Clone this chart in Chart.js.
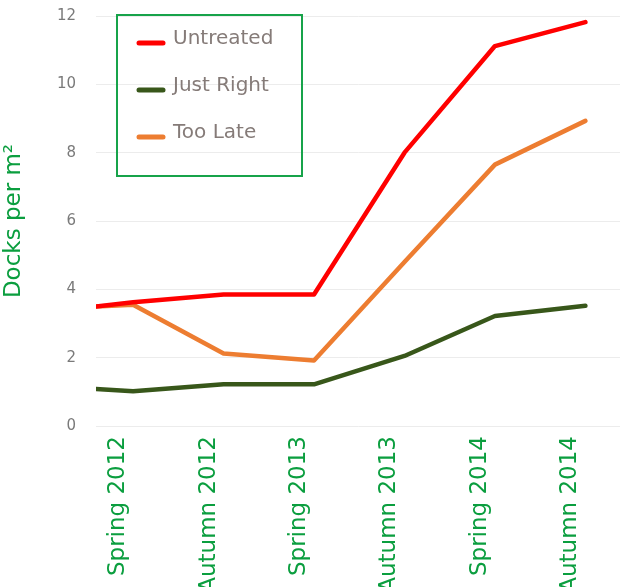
<!DOCTYPE html>
<html>
<head>
<meta charset="utf-8">
<script src="https://cdn.jsdelivr.net/npm/chart.js@4.4.0/dist/chart.umd.min.js"></script>
<style>
  html, body { margin: 0; padding: 0; background: #ffffff; overflow: hidden; }
  #wrap { position: relative; width: 620px; height: 587px; overflow: hidden; }
  #c { position: absolute; left: 0; top: -13px; }
</style>
</head>
<body>
<div id="wrap"><canvas id="c" width="623" height="600"></canvas></div>
<script>
// Category labels (tick positions 0..5); first data point lies before Spring 2012
const categories = ['Spring 2012', 'Autumn 2012', 'Spring 2013', 'Autumn 2013', 'Spring 2014', 'Autumn 2014'];
const xPositions = [-0.41, 0, 1, 2, 3, 4, 5];
const untreated = [3.5, 3.62, 3.85, 3.85, 8.0, 11.12, 11.82];
const justRight = [1.08, 1.02, 1.22, 1.22, 2.05, 3.22, 3.52];
const tooLate   = [3.5, 3.55, 2.12, 1.92, 4.8, 7.65, 8.93];
const yTicks = [0, 2, 4, 6, 8, 10, 12];
const seriesNames = ['Untreated', 'Just Right', 'Too Late'];
const seriesColors = ['#ff0000', '#38571a', '#ed7d31'];

const toPoints = arr => arr.map((v, i) => ({ x: xPositions[i], y: v }));

const legendPlugin = {
  id: 'boxLegend',
  afterDraw(chart) {
    const ctx = chart.ctx;
    const a = chart.chartArea;
    const left = a.left + 21, top = a.top - 1, w = 185, h = 161;
    ctx.save();
    ctx.strokeStyle = '#17a34a';
    ctx.lineWidth = 2;
    ctx.strokeRect(left, top, w, h);
    const rows = [29, 76, 123];
    chart.data.datasets.forEach((ds, i) => {
      const base = top + rows[i];
      ctx.strokeStyle = ds.borderColor;
      ctx.lineWidth = 5;
      ctx.lineCap = 'round';
      ctx.beginPath();
      ctx.moveTo(left + 22, base - 1);
      ctx.lineTo(left + 46, base - 1);
      ctx.stroke();
      ctx.fillStyle = '#857b78';
      ctx.font = '20px "DejaVu Sans"';
      ctx.textBaseline = 'alphabetic';
      ctx.textAlign = 'left';
      ctx.fillText(ds.label, left + 56, base);
    });
    ctx.restore();
  }
};

new Chart(document.getElementById('c'), {
  type: 'line',
  data: {
    datasets: [
      { label: seriesNames[0], data: toPoints(untreated), borderColor: seriesColors[0] },
      { label: seriesNames[1], data: toPoints(justRight), borderColor: seriesColors[1] },
      { label: seriesNames[2], data: toPoints(tooLate), borderColor: seriesColors[2] }
    ].map(d => Object.assign(d, { borderWidth: 4.5, pointRadius: 0, tension: 0, fill: false, borderJoinStyle: 'round', borderCapStyle: 'round' }))
  },
  options: {
    responsive: false,
    animation: false,
    layout: { padding: { top: 1, right: 0, left: 0, bottom: 0 } },
    plugins: { legend: { display: false }, tooltip: { enabled: false } },
    scales: {
      x: {
        type: 'linear',
        min: -0.41,
        max: 5.39,
        afterBuildTicks: axis => { axis.ticks = categories.map((c, i) => ({ value: i })); },
        afterFit: axis => { axis.height = 161; },
        grid: { display: false, drawTicks: false },
        border: { display: false },
        ticks: {
          autoSkip: false,
          minRotation: 90,
          maxRotation: 90,
          padding: 10,
          labelOffset: -15,
          color: '#0b9e3f',
          font: { family: 'DejaVu Sans', size: 23 },
          callback: v => categories[v]
        }
      },
      y: {
        min: 0,
        max: 12,
        afterBuildTicks: axis => { axis.ticks = yTicks.map(v => ({ value: v })); },
        afterFit: axis => { axis.width = 96; },
        grid: { color: '#ececec', lineWidth: 1, drawTicks: false },
        border: { display: false },
        ticks: {
          padding: 20,
          color: '#7a7a7a',
          font: { family: 'DejaVu Sans', size: 15 }
        },
        title: {
          display: true,
          text: 'Docks per m²',
          color: '#0b9e3f',
          font: { family: 'DejaVu Sans', size: 23 },
          padding: { top: 0, bottom: 0 }
        }
      }
    }
  },
  plugins: [legendPlugin]
});
</script>
</body>
</html>
